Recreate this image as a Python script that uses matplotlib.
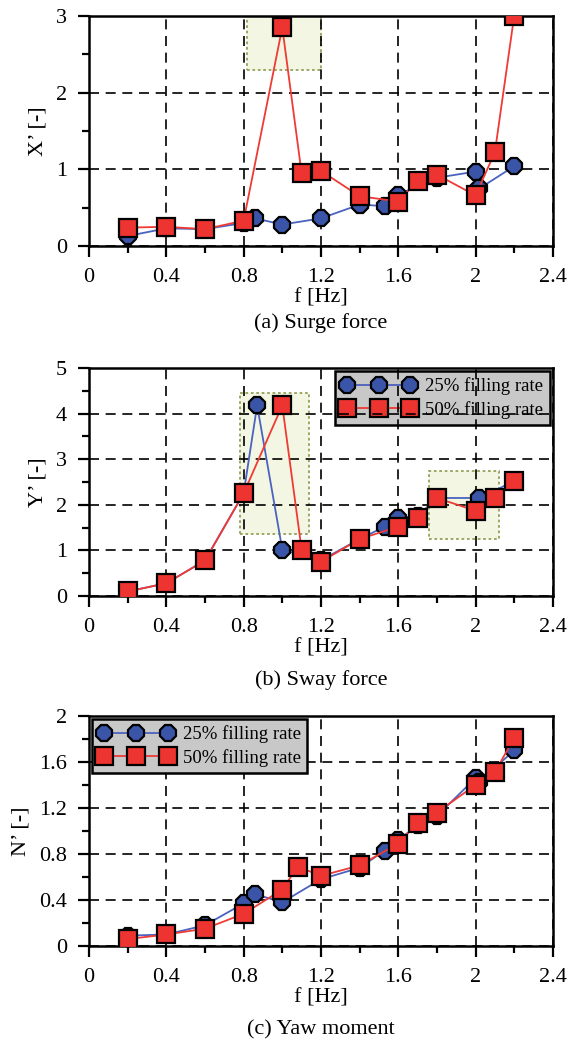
import matplotlib
matplotlib.use("Agg")
import matplotlib.pyplot as plt
from matplotlib.patches import Rectangle
from matplotlib.ticker import MultipleLocator, FuncFormatter

plt.rcParams['font.family'] = ['Liberation Serif', 'DejaVu Serif']

# (a) surge force
f25_a = [0.2, 0.4, 0.6, 0.8, 0.86, 1.0, 1.2, 1.4, 1.53, 1.6, 1.8, 2.0, 2.02, 2.2]
x25_a = [0.13, 0.23, 0.22, 0.30, 0.36, 0.28, 0.36, 0.54, 0.52, 0.67, 0.89, 0.97, 0.75, 1.04]
f50_a = [0.2, 0.4, 0.6, 0.8, 1.0, 1.1, 1.2, 1.4, 1.6, 1.7, 1.8, 2.0, 2.1, 2.2]
x50_a = [0.24, 0.25, 0.22, 0.33, 2.85, 0.95, 0.98, 0.65, 0.58, 0.85, 0.93, 0.66, 1.22, 3.0]

# (b) sway force
f25_b = [0.2, 0.4, 0.6, 0.8, 0.87, 1.0, 1.2, 1.4, 1.53, 1.6, 1.7, 1.8, 2.02, 2.2]
y25_b = [0.10, 0.28, 0.78, 2.25, 4.18, 1.02, 0.78, 1.25, 1.52, 1.72, 1.75, 2.15, 2.15, 2.52]
f50_b = [0.2, 0.4, 0.6, 0.8, 1.0, 1.1, 1.2, 1.4, 1.6, 1.7, 1.8, 2.0, 2.1, 2.2]
y50_b = [0.10, 0.28, 0.78, 2.25, 4.18, 1.02, 0.75, 1.25, 1.52, 1.72, 2.15, 1.87, 2.15, 2.52]

# (c) yaw moment
f25_c = [0.2, 0.4, 0.6, 0.8, 0.86, 1.0, 1.2, 1.4, 1.53, 1.6, 1.7, 1.8, 2.0, 2.02, 2.2]
n25_c = [0.09, 0.10, 0.18, 0.37, 0.45, 0.38, 0.58, 0.68, 0.83, 0.92, 1.05, 1.13, 1.46, 1.43, 1.70]
f50_c = [0.2, 0.4, 0.6, 0.8, 1.0, 1.08, 1.2, 1.4, 1.6, 1.7, 1.8, 2.0, 2.1, 2.2]
n50_c = [0.06, 0.10, 0.15, 0.28, 0.49, 0.69, 0.61, 0.70, 0.89, 1.07, 1.16, 1.40, 1.51, 1.81]

# highlighted regions (x0, x1, y0, y1)
boxes_a = [(0.82, 1.20, 2.30, 3.0)]
boxes_b = [(0.78, 1.14, 1.35, 4.45), (1.76, 2.12, 1.25, 2.75)]
boxes_c = []

labels = ['25% filling rate', '50% filling rate']
blue_face, blue_line = '#3a55a8', '#4a62c0'
red_face, red_line = '#ee3430', '#f03a34'


def fmt(v, pos):
    return ('%.1f' % v).rstrip('0').rstrip('.') if v != 0 else '0'


def panel(ax, f1, v1, f2, v2, ymax, ymaj, ymin, ylabel, boxes, legend_loc=None, legend_z=5):
    for x0, x1, y0, y1 in boxes:
        ax.add_patch(Rectangle((x0, y0), x1 - x0, y1 - y0, facecolor='#f3f6e2',
                               edgecolor='#95a05a', linestyle=(0, (1.5, 1.5)), lw=1.3, zorder=0.8))
    ax.plot(f1, v1, color=blue_line, lw=1.3, marker='8', ms=12.5, mfc=blue_face,
            mec='black', mew=1.6, label=labels[0], zorder=3)
    ax.plot(f2, v2, color=red_line, lw=1.3, marker='s', ms=12.5, mfc=red_face,
            mec='black', mew=1.6, label=labels[1], zorder=4)
    ax.set_xlim(0, 2.4)
    ax.set_ylim(0, ymax)
    ax.xaxis.set_major_locator(MultipleLocator(0.4))
    ax.xaxis.set_minor_locator(MultipleLocator(0.2))
    ax.yaxis.set_major_locator(MultipleLocator(ymaj))
    ax.yaxis.set_minor_locator(MultipleLocator(ymin))
    ax.xaxis.set_major_formatter(FuncFormatter(fmt))
    ax.yaxis.set_major_formatter(FuncFormatter(fmt))
    ax.tick_params(which='both', direction='out', width=1.6, labelsize=16, top=False, right=False)
    ax.tick_params(which='major', length=8, pad=8)
    ax.tick_params(which='minor', length=5)
    for s in ax.spines.values():
        s.set_linewidth(1.8)
    ax.grid(True, which='major', color='black', lw=1.2, linestyle=(0, (6, 4)))
    ax.set_xlabel('f [Hz]', fontsize=16, labelpad=1)
    ax.set_ylabel(ylabel, fontsize=16, labelpad=6)
    if legend_loc:
        leg = ax.legend(loc=legend_loc, numpoints=3, fontsize=13.5, frameon=True, fancybox=False,
                        borderaxespad=0.15, handlelength=4.0, handletextpad=0.5,
                        labelspacing=0.3, borderpad=0.35)
        fr = leg.get_frame()
        fr.set_facecolor('#c8c8c8')
        fr.set_edgecolor('black')
        fr.set_linewidth(1.8)
        fr.set_alpha(1)
        leg.set_zorder(legend_z)


fig = plt.figure(figsize=(5.67, 10.49), dpi=100)
W = 0.818
L = 0.157
axa = fig.add_axes([L, 0.7655, W, 0.2193])
axb = fig.add_axes([L, 0.4318, W, 0.2174])
axc = fig.add_axes([L, 0.0982, W, 0.2193])

panel(axa, f25_a, x25_a, f50_a, x50_a, 3, 1, 0.5, 'X’ [-]', boxes_a)
panel(axb, f25_b, y25_b, f50_b, y50_b, 5, 1, 0.5, 'Y’ [-]', boxes_b, 'upper right', legend_z=1)
panel(axc, f25_c, n25_c, f50_c, n50_c, 2, 0.4, 0.2, 'N’ [-]', boxes_c, 'upper left')

cx = L + W / 2
fig.text(cx, 1 - 323 / 1049, '(a) Surge force', ha='center', va='center', fontsize=16)
fig.text(cx, 1 - 680 / 1049, '(b) Sway force', ha='center', va='center', fontsize=16)
fig.text(cx, 1 - 1030 / 1049, '(c) Yaw moment', ha='center', va='center', fontsize=16)

fig.savefig('out.png', dpi=100)
